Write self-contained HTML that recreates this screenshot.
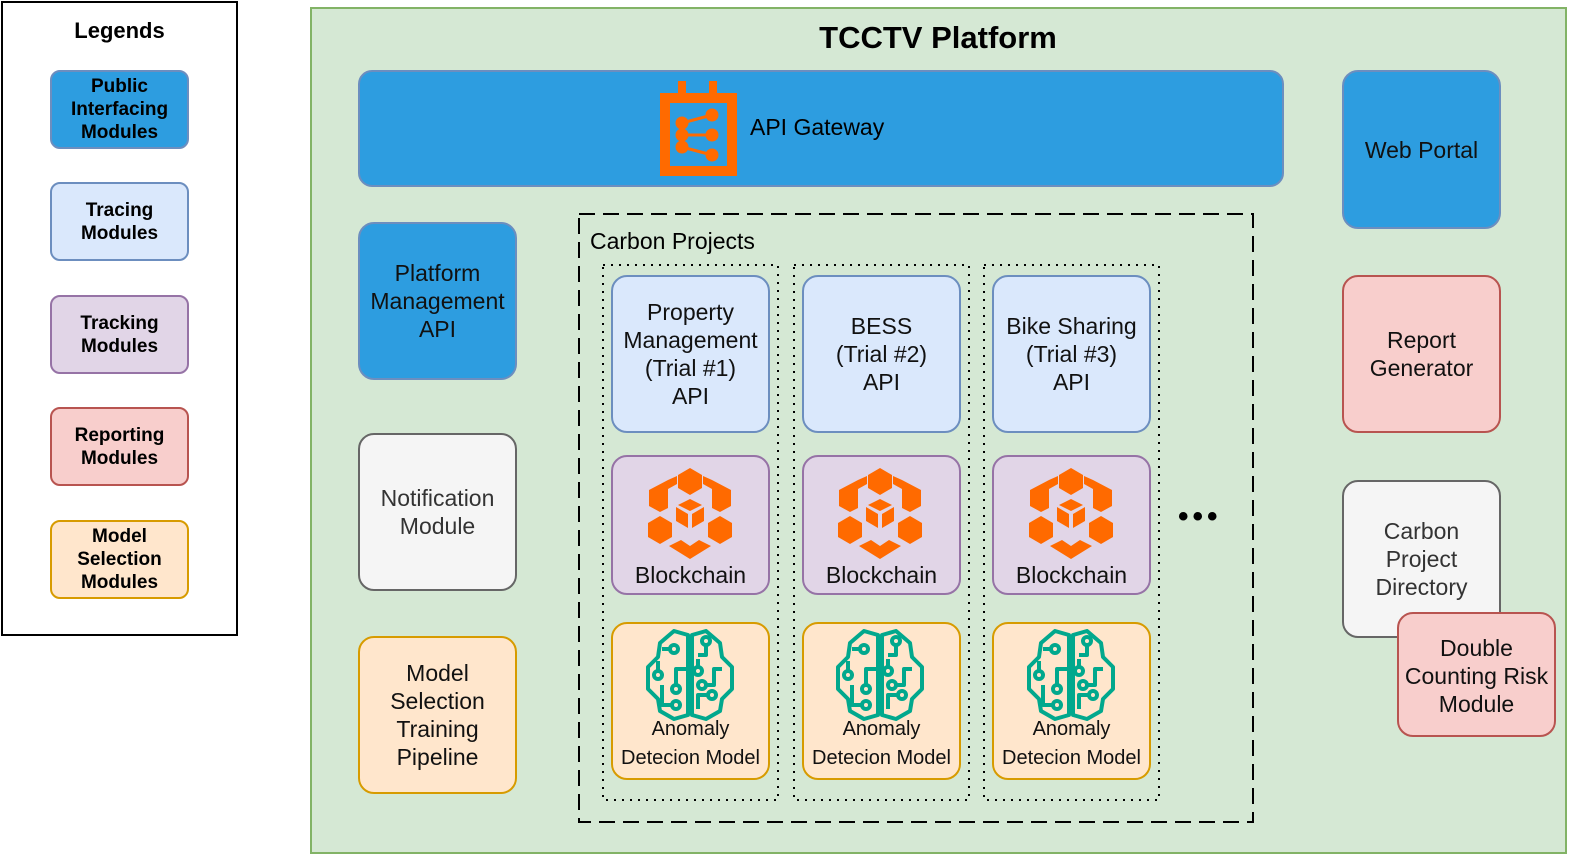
<!DOCTYPE html>
<html><head><meta charset="utf-8"><style>
body{margin:0;width:1590px;height:866px;background:#fff;position:relative;font-family:"Liberation Sans",sans-serif;overflow:hidden}
.a{position:absolute;box-sizing:border-box}
.b{position:absolute;box-sizing:border-box;border:2px solid;border-radius:16px;display:flex;align-items:center;justify-content:center;text-align:center;font-size:23px;line-height:28px;color:#111;padding:0 8px}
.lg{position:absolute;box-sizing:border-box;left:50px;width:139px;height:79px;border:2px solid;border-radius:10px;display:flex;align-items:center;justify-content:center;text-align:center;font-weight:bold;font-size:19px;line-height:23px}
.blue{background:#2d9de0;border-color:#6c8ebf}
.lb{background:#dae8fc;border-color:#6c8ebf}
.pu{background:#e1d5e7;border-color:#9673a6}
.re{background:#f8cecc;border-color:#b85450}
.or{background:#ffe6cc;border-color:#d79b00}
.gr{background:#f5f5f5;border-color:#666;color:#333}
</style></head><body>
<div class="a" style="left:1px;top:1px;width:237px;height:635px;border:2px solid #000"></div>
<div class="a" style="left:1px;top:18px;width:237px;text-align:center;font-weight:bold;font-size:22px">Legends</div>
<div class="lg blue" style="top:70px">Public Interfacing Modules</div>
<div class="lg lb" style="top:182px">Tracing Modules</div>
<div class="lg pu" style="top:295px">Tracking Modules</div>
<div class="lg re" style="top:407px">Reporting Modules</div>
<div class="lg or" style="top:520px">Model Selection Modules</div>

<div class="a" style="left:310px;top:7px;width:1257px;height:847px;background:#d5e8d4;border:2px solid #82b366"></div>
<div class="a" style="left:700px;top:20px;width:476px;text-align:center;font-weight:bold;font-size:31px">TCCTV Platform</div>

<div class="b blue" style="left:358px;top:70px;width:926px;height:117px;border-radius:14px"></div>
<svg class="a" style="left:660px;top:81px" width="77" height="95" viewBox="0 0 77 95">
<g fill="#ff6a00"><rect x="18" y="0" width="8" height="14"/><rect x="49" y="0" width="8" height="14"/></g>
<rect x="5" y="17" width="67" height="73" fill="none" stroke="#ff6a00" stroke-width="10"/>
<g stroke="#ff6a00" stroke-width="3" fill="#ff6a00"><line x1="22" y1="42" x2="52" y2="34"/><line x1="22" y1="54" x2="52" y2="54"/><line x1="22" y1="66" x2="52" y2="74"/>
<circle cx="22" cy="42" r="5"/><circle cx="52" cy="34" r="5"/><circle cx="22" cy="54" r="5"/><circle cx="52" cy="54" r="5"/><circle cx="22" cy="66" r="5"/><circle cx="52" cy="74" r="5"/></g></svg>
<div class="a" style="left:750px;top:114px;font-size:23px">API Gateway</div>

<div class="b blue" style="left:1342px;top:70px;width:159px;height:159px">Web Portal</div>
<div class="b blue" style="left:358px;top:222px;width:159px;height:158px">Platform Management API</div>
<div class="b gr" style="left:358px;top:433px;width:159px;height:158px">Notification Module</div>
<div class="b or" style="left:358px;top:636px;width:159px;height:158px">Model Selection Training Pipeline</div>
<div class="b re" style="left:1342px;top:275px;width:159px;height:158px">Report Generator</div>
<div class="b gr" style="left:1342px;top:480px;width:159px;height:158px;padding:0 18px;align-items:flex-start;padding-top:35px">Carbon Project Directory</div>
<div class="b re" style="left:1397px;top:612px;width:159px;height:125px;padding:2px 0 0">Double Counting Risk Module</div>

<svg class="a" style="left:0;top:0" width="1590" height="866">
<rect x="579" y="214" width="674" height="608" fill="none" stroke="#000" stroke-width="2" stroke-dasharray="16 8"/>
<g fill="none" stroke="#000" stroke-width="2" stroke-dasharray="2 6">
<rect x="603" y="265" width="175" height="535"/>
<rect x="794" y="265" width="175" height="535"/>
<rect x="984" y="265" width="175" height="535"/>
</g></svg>
<div class="a" style="left:590px;top:228px;font-size:23px">Carbon Projects</div>
<div class="a" style="left:1178px;top:500px;font-size:30px;font-weight:bold;letter-spacing:4px">•••</div>

<div class="b lb" style="left:611px;top:275px;width:159px;height:158px;padding:0">Property<br>Management<br>(Trial #1)<br>API</div>
<div class="b lb" style="left:802px;top:275px;width:159px;height:158px">BESS<br>(Trial #2)<br>API</div>
<div class="b lb" style="left:992px;top:275px;width:159px;height:158px;padding:0">Bike Sharing<br>(Trial #3)<br>API</div>

<div class="b pu" style="left:611px;top:455px;width:159px;height:140px;align-items:flex-end;padding-bottom:4px">Blockchain</div>
<div class="b pu" style="left:802px;top:455px;width:159px;height:140px;align-items:flex-end;padding-bottom:4px">Blockchain</div>
<div class="b pu" style="left:992px;top:455px;width:159px;height:140px;align-items:flex-end;padding-bottom:4px">Blockchain</div>
<svg width="0" height="0" style="position:absolute"><defs>
<g id="bc" fill="#ff6a00">
<polygon points="43,0 55,7 55,20 43,27 31,20 31,7"/>
<polygon points="21,12 30,8 30,16 21,21 21,40 13,44 2,38 2,22"/>
<polygon points="65,12 56,8 56,16 65,21 65,40 73,44 84,38 84,22"/>
<polygon points="43,31 55,37 43,43 31,37"/>
<polygon points="29,39 41,46 41,60 29,53"/>
<polygon points="57,39 45,46 45,60 57,53"/>
<polygon points="13,48 25,55 25,69 13,76 1,69 1,55"/>
<polygon points="73,48 85,55 85,69 73,76 61,69 61,55"/>
<polygon points="22,78 34,72 43,78 52,72 64,78 43,91"/>
</g>
<g id="br" fill="none" stroke="#01a88d" stroke-width="4" stroke-linejoin="round">
<path d="M44,6 L30,2 L16,14 L14,28 L4,38 L4,60 L14,70 L16,82 L30,90 L44,86 Z"/>
<path d="M48,6 L62,2 L76,14 L78,28 L88,38 L88,60 L78,70 L76,82 L62,90 L48,86 Z"/>
<path d="M18,20 H26"/><circle cx="30" cy="20" r="4"/>
<path d="M14,42 V32"/><circle cx="14" cy="46" r="4"/>
<path d="M44,40 H32 V56"/><circle cx="32" cy="60" r="4"/>
<path d="M18,56 V76 H28"/><circle cx="32" cy="76" r="4"/>
<path d="M62,16 V26 H54"/><circle cx="62" cy="12" r="4"/>
<circle cx="54" cy="42" r="4"/><path d="M54,38 V30"/>
<path d="M78,40 H70 V56 H62"/><circle cx="58" cy="56" r="4"/>
<path d="M54,80 V66 H64"/><circle cx="68" cy="66" r="4"/>
</g></defs></svg>
<svg class="a" style="left:647px;top:468px" width="87" height="92"><use href="#bc"/></svg>
<svg class="a" style="left:837px;top:468px" width="87" height="92"><use href="#bc"/></svg>
<svg class="a" style="left:1028px;top:468px" width="87" height="92"><use href="#bc"/></svg>

<div class="b or" style="left:611px;top:622px;width:159px;height:158px;align-items:flex-end;padding:0 0 5px;font-size:20px;line-height:29px">Anomaly<br>Detecion Model</div>
<div class="b or" style="left:802px;top:622px;width:159px;height:158px;align-items:flex-end;padding:0 0 5px;font-size:20px;line-height:29px">Anomaly<br>Detecion Model</div>
<div class="b or" style="left:992px;top:622px;width:159px;height:158px;align-items:flex-end;padding:0 0 5px;font-size:20px;line-height:29px">Anomaly<br>Detecion Model</div>
<svg class="a" style="left:644px;top:629px" width="93" height="94"><use href="#br"/></svg>
<svg class="a" style="left:834px;top:629px" width="93" height="94"><use href="#br"/></svg>
<svg class="a" style="left:1025px;top:629px" width="93" height="94"><use href="#br"/></svg>
</body></html>
